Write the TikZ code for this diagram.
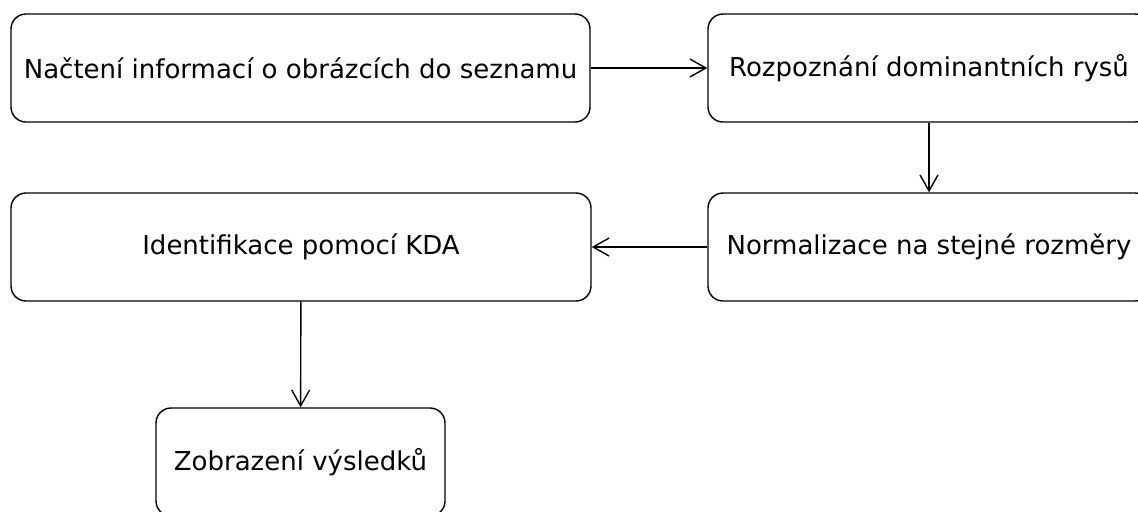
\documentclass[tikz,border=0pt]{standalone}
\usepackage{fontspec}
\setmainfont{DejaVu Sans}
\usetikzlibrary{arrows.meta}

\begin{document}
\begin{tikzpicture}[x=0.5pt,y=-0.5pt]

\tikzset{krok/.style={draw,rounded corners=7.5pt,line width=0.7pt,inner sep=0pt,
  font=\fontsize{13}{15}\selectfont,minimum height=54pt},
  sipka/.style={-{Straight Barb[length=8pt,width=9pt,line width=0.7pt]},line width=0.7pt}}

\useasboundingbox (0,0) rectangle (1138,511);

% first row
\node[krok,minimum width=289.5pt] (nacteni) at (300.5,68) {Načtení informací o obrázcích do seznamu};
\node[krok,minimum width=221pt] (rysy) at (929,68) {Rozpoznání dominantních rysů};

% second row
\node[krok,minimum width=221pt] (normal) at (929,247) {Normalizace na stejné rozměry};
\node[krok,minimum width=290pt] (kda) at (301,247) {Identifikace pomocí KDA};

% last box
\node[krok,minimum width=144.5pt] (vysledky) at (300.5,462) {Zobrazení výsledků};

\draw[sipka] (nacteni) -- (rysy);
\draw[sipka] (rysy) -- (normal);
\draw[sipka] (normal) -- (kda);
\draw[sipka] (kda) -- (vysledky);

\end{tikzpicture}
\end{document}
